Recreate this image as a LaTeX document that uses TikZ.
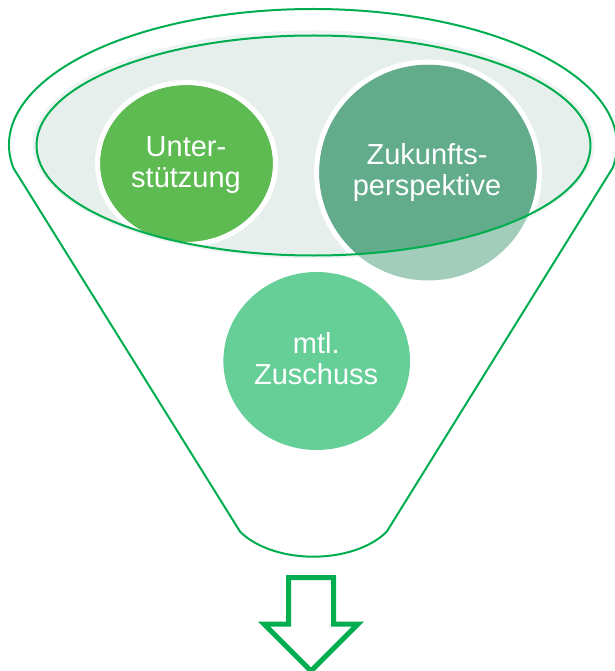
\documentclass[tikz,border=0pt]{standalone}
\usepackage{fontspec}
\setmainfont{Liberation Sans}
\definecolor{fgreen}{HTML}{00AE50}
\definecolor{efill}{HTML}{E6EFEB}
\definecolor{ehalo}{HTML}{EEF4F1}
\definecolor{cA}{HTML}{5EBB52}
\definecolor{cAl}{HTML}{9ED697}
\definecolor{cB}{HTML}{62AC8C}
\definecolor{cBl}{HTML}{A1CDBA}
\definecolor{cC}{HTML}{66CF98}
\begin{document}
\begin{tikzpicture}[x=1pt,y=-1pt,
  lbl/.style={text=white, font=\fontsize{29}{31}\selectfont, align=center, inner sep=0pt},
  funnelline/.style={draw=fgreen, line width=2pt, line join=round},
  ring/.style={draw=white, line width=5pt}]
\useasboundingbox (0,0) rectangle (614,671);
% funnel outline
\draw[funnelline] (13.4,168) arc[start angle=170.26, end angle=369.74, x radius=304, y radius=136]
  -- (386.7,531.7) arc[start angle=31.2, end angle=148.8, x radius=85.7, y radius=51.8] -- cycle;
% inner ellipse fill
\fill[ehalo] (313.5,144.5) ellipse[x radius=281, y radius=114];
\fill[efill] (313.5,145.5) ellipse[x radius=277, y radius=110];
% faded parts of circles (outside the ellipse)
\fill[cAl] (186.5,163.5) ellipse[x radius=86.5, y radius=78.5];
\fill[cBl] (428,172.5) ellipse[x radius=109, y radius=108];
\begin{scope}
  \clip (313.5,145.5) ellipse[x radius=277, y radius=110];
  \fill[cA] (186.5,163.5) ellipse[x radius=86.5, y radius=78.5];
  \draw[ring] (186.5,163.5) ellipse[x radius=89, y radius=81];
  \fill[cB] (428,172.5) ellipse[x radius=109, y radius=108];
  \draw[ring] (428,172.5) ellipse[x radius=111.5, y radius=110.5];
\end{scope}
\draw[funnelline] (313.5,145.5) ellipse[x radius=277, y radius=110];
% lower circle
\fill[cC] (316.7,361) ellipse[x radius=93.3, y radius=89];
% labels
\node[lbl] (unter) at (186,165.2) {Unter-\\stützung};
\node[lbl] (zuk) at (427,173) {Zukunfts-\\perspektive};
\node[lbl] (mtl) at (316.2,358.3) {mtl.\\Zuschuss};
% arrow
\draw[fgreen, line width=5pt, miter limit=10] (288.5,577.5) -- (333.5,577.5) -- (333.5,624) -- (358,624)
  -- (311,671) -- (264,624) -- (288.5,624) -- cycle;
\end{tikzpicture}
\end{document}
